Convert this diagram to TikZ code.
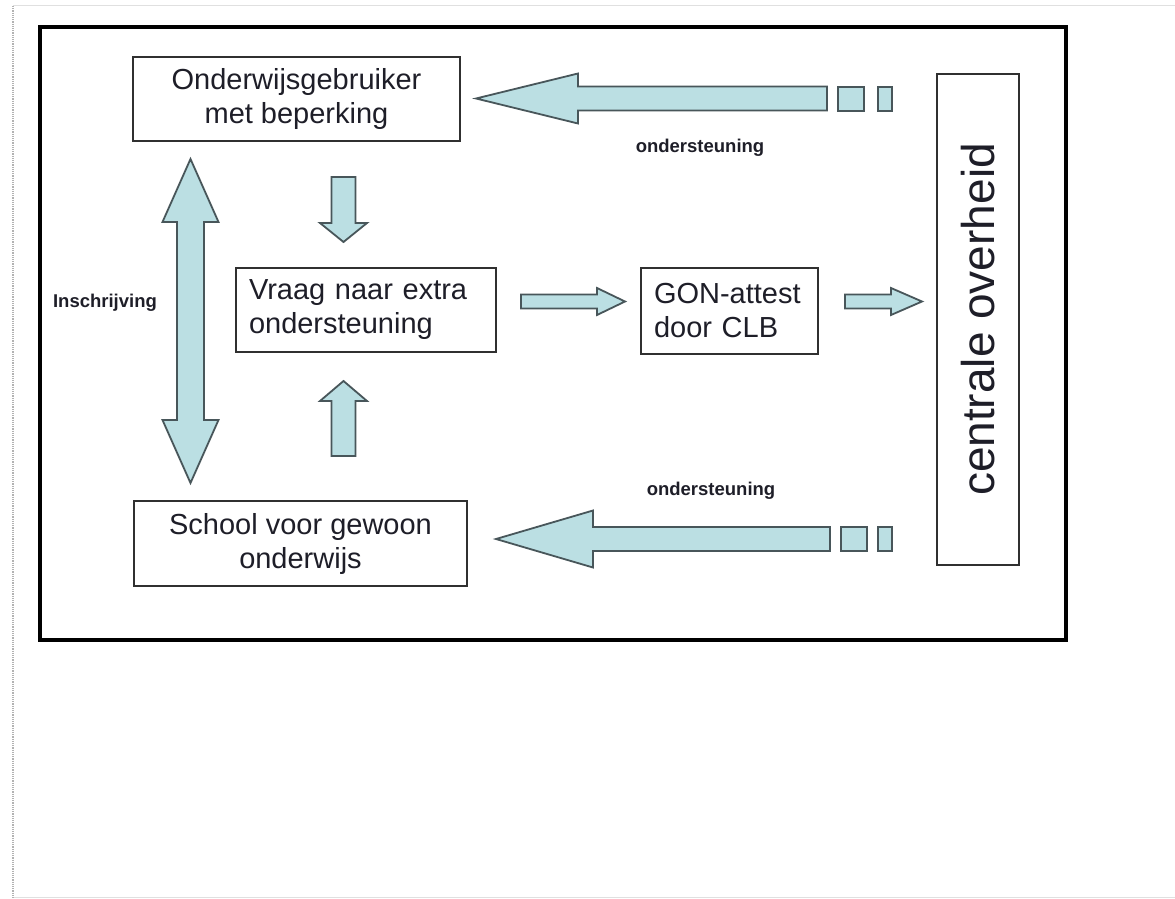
\documentclass[tikz,border=0pt]{standalone}
\usepackage{fontspec}
\setmainfont{Liberation Sans}
\definecolor{lichtblauw}{RGB}{187,223,227}
\definecolor{pijlrand}{RGB}{72,86,90}
\definecolor{kaderrand}{RGB}{48,48,48}
\definecolor{tekstkleur}{RGB}{30,30,40}

\begin{document}
\begin{tikzpicture}[x=1pt,y=-1pt,
  box/.style={draw=kaderrand, line width=1.8pt, fill=white, text=tekstkleur,
              font=\fontsize{29}{34}\selectfont, inner sep=0pt},
  pijl/.style={draw=pijlrand, fill=lichtblauw, line width=1.8pt},
  label/.style={font=\fontsize{18.5}{21}\selectfont\bfseries, text=tekstkleur}]
% white page with the light screenshot edge
  \useasboundingbox[fill=white] (0,0) rectangle (1175,899);
  \draw[black!12, line width=1pt] (13,6) -- (1175,6);
  \draw[black!12, line width=1pt] (13,897) -- (1175,897);
  \draw[black!30, densely dotted, line width=1.2pt] (13,6) -- (13,899);

% the outer frame
  \draw[black, line width=4pt] (40,27) rectangle (1066,640);

% the boxes
  \node[box, minimum width=327pt, minimum height=84pt, align=center] (gebruiker) at (296.5,99)
    {Onderwijsgebruiker\\met beperking};
  \node[box, minimum width=260pt, minimum height=84pt, text width=234pt, align=left] (vraag) at (366,310)
    {Vraag naar extra\\ondersteuning};
  \node[box, minimum width=333pt, minimum height=85pt, align=center] (school) at (300.5,543.5)
    {School voor gewoon\\onderwijs};
  \node[box, minimum width=177pt, minimum height=86pt, text width=151pt, align=left] (gon) at (729.5,311)
    {GON-attest\\door CLB};
  \node[box, minimum width=491pt, minimum height=82pt, rotate=90,
        font=\fontsize{46}{52}\selectfont] (overheid) at (978,319.5) {centrale overheid};

% big arrow at the top, with its two little blocks
  \filldraw[pijl] (827,86.5) -- (578,86.5) -- (578,73.5) -- (476,98.5) -- (578,123.5) -- (578,110.5) -- (827,110.5) -- cycle;
  \filldraw[pijl] (838,87) rectangle (864,111);
  \filldraw[pijl] (878,87) rectangle (892,111);
  \node[label] (steuntop) at (700,148) {ondersteuning};

% big arrow at the bottom, with its two little blocks
  \filldraw[pijl] (830,527) -- (593,527) -- (593,510.5) -- (496,539) -- (593,567.5) -- (593,551) -- (830,551) -- cycle;
  \filldraw[pijl] (841,527) rectangle (867,551);
  \filldraw[pijl] (878,527) rectangle (892,551);
  \node[label] (steunbodem) at (711,491) {ondersteuning};

% the double arrow on the left
  \filldraw[pijl] (177,222) -- (162.5,222) -- (190.5,159) -- (218.5,222) -- (204,222) -- (204,420)
    -- (218.5,420) -- (190.5,483) -- (162.5,420) -- (177,420) -- cycle;
  \node[label] (inschrijving) at (105,303) {Inschrijving};

% the small arrows into the question box
  \filldraw[pijl] (331.5,177) -- (355.5,177) -- (355.5,223) -- (367,223) -- (343.5,242) -- (320,223) -- (331.5,223) -- cycle;
  \filldraw[pijl] (331.5,456) -- (355.5,456) -- (355.5,401) -- (367,401) -- (343.5,381) -- (320,401) -- (331.5,401) -- cycle;

% the arrows to the right
  \filldraw[pijl] (521,294.5) -- (597,294.5) -- (597,288) -- (625,301.5) -- (597,315) -- (597,308.5) -- (521,308.5) -- cycle;
  \filldraw[pijl] (845,294.5) -- (891,294.5) -- (891,288) -- (922,301.5) -- (891,315) -- (891,308.5) -- (845,308.5) -- cycle;
\end{tikzpicture}
\end{document}
